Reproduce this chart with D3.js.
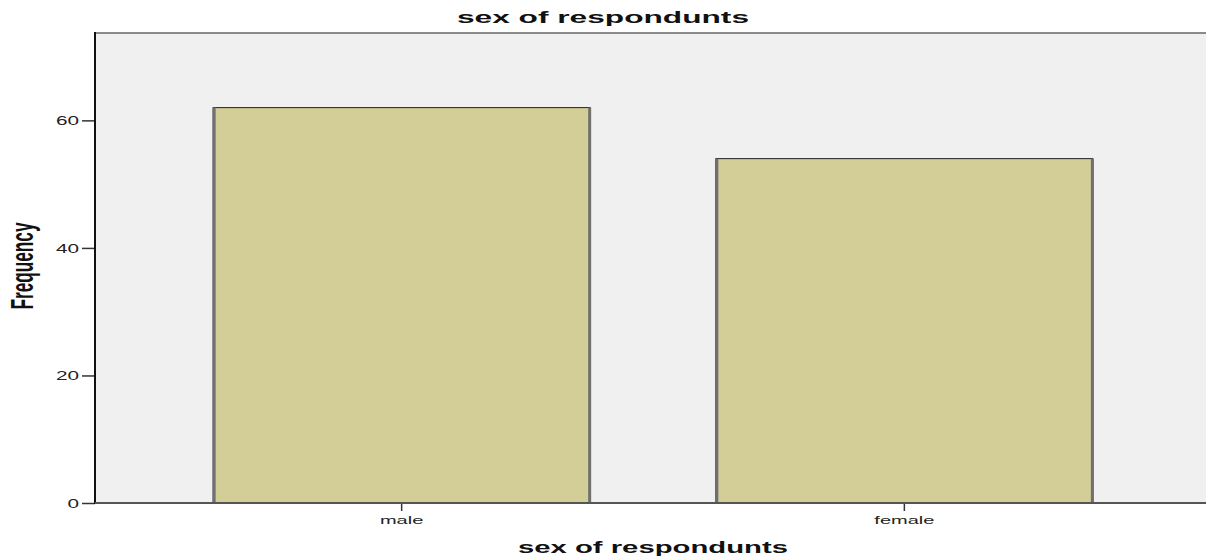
<!DOCTYPE html>
<html>
<head>
<meta charset="utf-8">
<script src="https://cdn.jsdelivr.net/npm/d3@7"></script>
<style>
  body { margin: 0; background: #fff; }
  text { font-family: "Liberation Sans", Arial, sans-serif; }
</style>
</head>
<body>
<div id="chart"></div>
<script>
const categories = ["male", "female"];
const frequencies = [62, 54];
const yTicks = [0, 20, 40, 60];
const chartTitle = "sex of respondunts";
const xTitle = "sex of respondunts";
const yTitle = "Frequency";

const width = 1206;
const height = 556;
const plotLeft = 95, plotTop = 33, plotBottom = 503, plotRight = 1211;

const svg = d3.select("#chart")
    .append("svg")
    .attr("width", width)
    .attr("height", height);

const x = d3.scaleBand()
    .domain(categories)
    .range([plotLeft, plotRight])
    .paddingInner(0.25)
    .paddingOuter(0.235);

const y = d3.scaleLinear()
    .domain([0, 73.7])
    .range([plotBottom, plotTop]);

// plot background
svg.append("rect")
    .attr("x", plotLeft)
    .attr("y", plotTop)
    .attr("width", plotRight - plotLeft)
    .attr("height", plotBottom - plotTop)
    .style("fill", "#f0f0f0");

// top frame line
svg.append("line")
    .attr("x1", plotLeft).attr("x2", width)
    .attr("y1", plotTop).attr("y2", plotTop)
    .style("stroke", "#8a8a8a")
    .style("stroke-width", 2);

const bars = svg.append("g")
    .selectAll("g")
    .data(categories)
    .join("g");

bars.append("rect")
    .attr("x", d => x(d))
    .attr("y", (d, i) => y(frequencies[i]))
    .attr("width", x.bandwidth())
    .attr("height", (d, i) => y(0) - y(frequencies[i]))
    .style("fill", "#d3ce98")
    .style("stroke", "#222")
    .style("stroke-width", 1);

// darker side edges
bars.selectAll("line")
    .data((d, i) => [
        { x: x(d) + 1, y: y(frequencies[i]) },
        { x: x(d) + x.bandwidth() - 0.5, y: y(frequencies[i]) }
    ])
    .join("line")
    .attr("x1", d => d.x).attr("x2", d => d.x)
    .attr("y1", d => d.y).attr("y2", plotBottom)
    .style("stroke", "#707070")
    .style("stroke-width", 3);

// y axis
const yAxis = svg.append("g")
    .attr("transform", `translate(${plotLeft},0)`)
    .call(d3.axisLeft(y).tickValues(yTicks).tickSize(13).tickFormat(d3.format("d")));
yAxis.select(".domain").remove();
yAxis.selectAll(".tick line").style("stroke", "#333").style("stroke-width", 1.5);
yAxis.selectAll(".tick text")
    .attr("x", 0)
    .attr("dy", "0.36em")
    .attr("transform", "translate(-16,0) scale(1.73,1)")
    .style("font-size", "12px")
    .style("fill", "#222");

svg.append("line")
    .attr("x1", plotLeft).attr("x2", plotLeft)
    .attr("y1", plotTop - 1).attr("y2", plotBottom + 1)
    .style("stroke", "#111")
    .style("stroke-width", 2);

// x axis
const xAxis = svg.append("g")
    .attr("transform", `translate(0,${plotBottom})`)
    .call(d3.axisBottom(x).tickSize(8));
xAxis.select(".domain").remove();
xAxis.selectAll(".tick line").style("stroke", "#333").style("stroke-width", 1.5);
xAxis.selectAll(".tick text")
    .attr("y", 0)
    .attr("dy", 0)
    .attr("transform", "translate(0,21) scale(1.82,1)")
    .style("font-size", "11px")
    .style("fill", "#222");

svg.append("line")
    .attr("x1", plotLeft).attr("x2", width)
    .attr("y1", plotBottom).attr("y2", plotBottom)
    .style("stroke", "#555")
    .style("stroke-width", 2);

// titles
svg.append("text")
    .attr("x", width / 2)
    .attr("y", 23)
    .attr("text-anchor", "middle")
    .attr("textLength", 292)
    .attr("lengthAdjust", "spacingAndGlyphs")
    .style("font-size", "16px")
    .style("font-weight", "bold")
    .style("fill", "#111")
    .text(chartTitle);

svg.append("text")
    .attr("x", (plotLeft + plotRight) / 2)
    .attr("y", 553)
    .attr("text-anchor", "middle")
    .attr("textLength", 270)
    .attr("lengthAdjust", "spacingAndGlyphs")
    .style("font-size", "17px")
    .style("font-weight", "bold")
    .style("fill", "#111")
    .text(xTitle);

svg.append("text")
    .attr("transform", "translate(33,266) rotate(-90) scale(1,2)")
    .attr("text-anchor", "middle")
    .attr("textLength", 87)
    .attr("lengthAdjust", "spacingAndGlyphs")
    .style("font-size", "16px")
    .style("font-weight", "bold")
    .style("fill", "#111")
    .text(yTitle);
</script>
</body>
</html>
